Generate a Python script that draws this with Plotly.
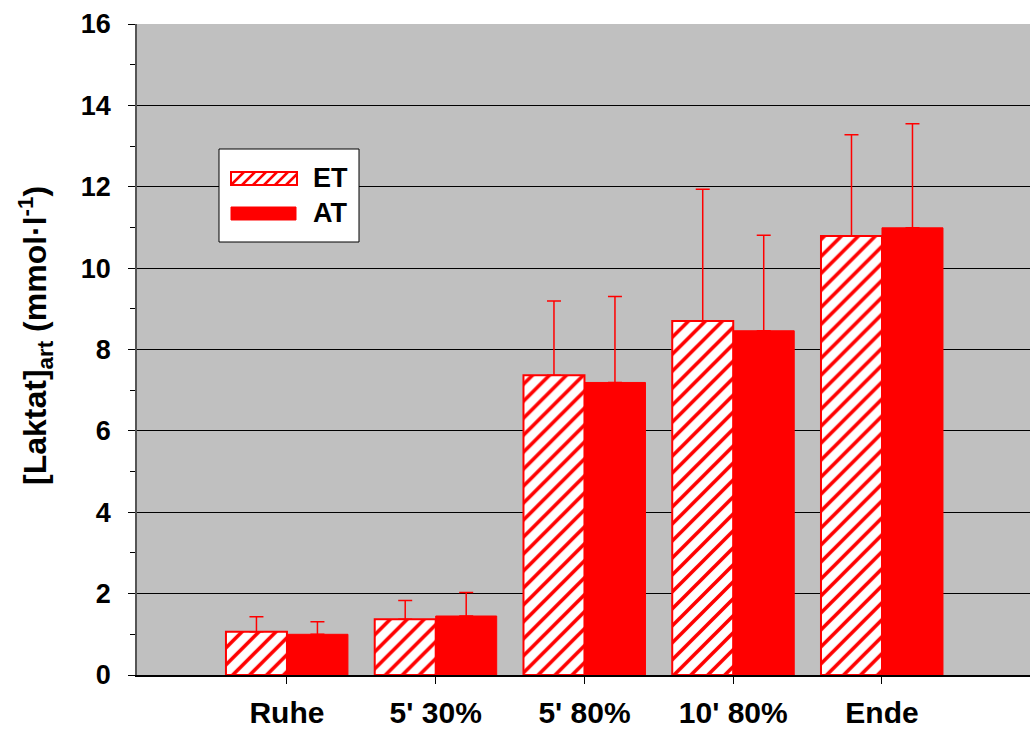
import plotly.graph_objects as go

categories = ["Ruhe", "5' 30%", "5' 80%", "10' 80%", "Ende"]
et_values = [1.06, 1.37, 7.37, 8.70, 10.79]
et_sd = [0.37, 0.46, 1.82, 3.24, 2.49]
at_values = [1.00, 1.45, 7.19, 8.46, 10.99]
at_sd = [0.31, 0.58, 2.11, 2.35, 2.56]
series_names = ["ET", "AT"]

RED = "#ff0000"
FONT = "Liberation Sans, Arial, sans-serif"
W, H = 1030, 729
ML, MR, MT, MB = 137, 0, 24, 54
PW, PH = W - ML - MR, H - MT - MB


def px(x):
    return (x - ML) / PW


def py(y):
    return (H - MB - y) / PH


fig = go.Figure()
fig.add_trace(go.Bar(
    name=series_names[0], x=categories, y=et_values, showlegend=False,
    marker=dict(color="white", line=dict(color=RED, width=2),
                pattern=dict(shape="/", fgcolor=RED, bgcolor="white", size=12,
                             solidity=0.3, fgopacity=1)),
    error_y=dict(type="data", array=et_sd, arrayminus=[0] * 5, symmetric=False,
                 color=RED, thickness=1.5, width=7),
    hoverinfo="skip",
))
fig.add_trace(go.Bar(
    name=series_names[1], x=categories, y=at_values, showlegend=False,
    marker=dict(color=RED, line=dict(color=RED, width=1)),
    error_y=dict(type="data", array=at_sd, arrayminus=[0] * 5, symmetric=False,
                 color=RED, thickness=1.5, width=7),
    hoverinfo="skip",
))

bold = dict(family=FONT, color="black", weight="bold")

fig.update_layout(
    width=W, height=H,
    margin=dict(l=ML, r=MR, t=MT, b=MB),
    paper_bgcolor="white", plot_bgcolor="#c0c0c0",
    barmode="group", bargap=0.18, bargroupgap=0,
    font=dict(family=FONT, color="black"),
    xaxis=dict(type="category", range=[-1.008, 4.995], showgrid=False,
               showline=True, linecolor="black", linewidth=1.5,
               ticks="outside", ticklen=7, tickcolor="black",
               tickfont=dict(size=30, **bold), ticklabelstandoff=3,
               automargin=False, zeroline=False),
    yaxis=dict(range=[0, 16], tickvals=[0, 2, 4, 6, 8, 10, 12, 14, 16],
               showgrid=True, gridcolor="black", gridwidth=1,
               showline=True, linecolor="#555555", linewidth=1.5,
               ticks="outside", ticklen=7, tickcolor="black",
               minor=dict(tickvals=[1, 3, 5, 7, 9, 11, 13, 15], ticks="outside",
                          ticklen=5, tickcolor="black", showgrid=False),
               tickfont=dict(size=27, **bold), ticklabelstandoff=12,
               automargin=False, zeroline=False),
)

fig.add_annotation(
    xref="paper", yref="paper", x=px(35), y=py(336), xanchor="center", yanchor="middle",
    text="<b>[Laktat]<sub>art</sub> (mmol·l<sup>-1</sup>)</b>", textangle=-90,
    showarrow=False, font=dict(size=32, family=FONT, color="black"),
)

# legend box (drawn manually to reproduce wide legend keys)
fig.add_shape(type="rect", xref="paper", yref="paper",
              x0=px(219), x1=px(359), y0=py(242), y1=py(149),
              fillcolor="white", line=dict(color="black", width=1), layer="above")
# ET key: hatched
fig.add_shape(type="rect", xref="paper", yref="paper",
              x0=px(231), x1=px(297), y0=py(185), y1=py(172),
              fillcolor="white", line=dict(color=RED, width=2), layer="above")
path = ""
for k in range(7):
    xs = 231 + k * 11
    x0, y0 = xs, 185
    x1, y1 = xs + 13, 172
    if x1 > 297:
        y1 = 185 - (297 - x0)
        x1 = 297
    path += f"M{px(x0)},{py(y0)} L{px(x1)},{py(y1)} "
fig.add_shape(type="path", xref="paper", yref="paper", path=path,
              line=dict(color=RED, width=2.5), layer="above")
# AT key: solid
fig.add_shape(type="rect", xref="paper", yref="paper",
              x0=px(231), x1=px(296), y0=py(220), y1=py(207),
              fillcolor=RED, line=dict(color=RED, width=1), layer="above")
for name, yc in zip(series_names, [178, 213]):
    fig.add_annotation(xref="paper", yref="paper", x=px(311), y=py(yc),
                       xanchor="left", yanchor="middle", text=f"<b>{name}</b>",
                       showarrow=False, font=dict(size=27, family=FONT, color="black"))

fig.write_html("out.html", config={"displayModeBar": False},
               post_script="document.body.style.margin='0';document.body.style.padding='0';")
